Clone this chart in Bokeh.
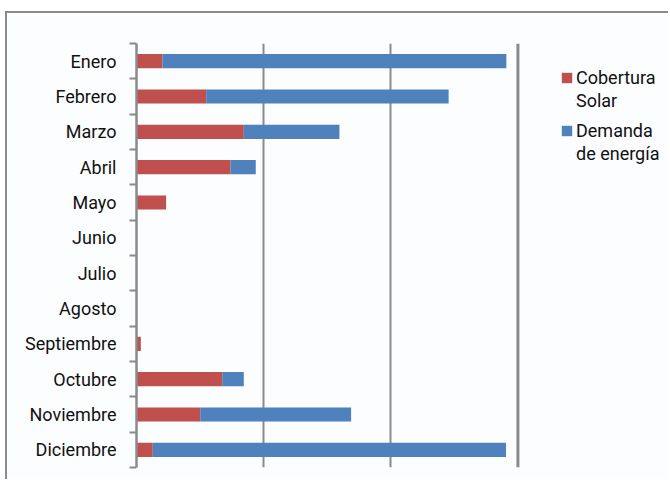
from bokeh.plotting import figure
from bokeh.models import (ColumnDataSource, Range1d, FixedTicker, Legend, LegendItem, Span)
from bokeh.embed import file_html
from bokeh.resources import INLINE

meses = ["Enero", "Febrero", "Marzo", "Abril", "Mayo", "Junio", "Julio",
         "Agosto", "Septiembre", "Octubre", "Noviembre", "Diciembre"]
cobertura_solar = [204, 548, 844, 739, 233, 0, 0, 0, 34, 674, 501, 128]
demanda_energia = [2705, 1907, 752, 199, 0, 0, 0, 0, 0, 170, 1187, 2778]
x_gridlines = [1000, 2000]
x_max = 3000
series_line1 = ["Cobertura", "Demanda"]
series_line2 = ["Solar", "de energía"]
colors = ["#C0504D", "#4F81BD"]

pos = [i + 0.5 for i in range(len(meses))]
src = ColumnDataSource(dict(pos=pos, cob=cobertura_solar, dem=demanda_energia))

BG = "#fbfdfe"
FONT = "Roboto"
GRAY = "#8a8a8a"

# frame extends to the right edge so the legend (inside it) is not clipped
p = figure(width=663, height=468, output_backend="svg", toolbar_location=None,
           x_range=Range1d(0, 4200), y_range=Range1d(len(meses), 0),
           min_border_left=129, min_border_right=0, min_border_top=30,
           min_border_bottom=14, background_fill_color=BG, border_fill_color=BG)
p.margin = (11, 0, 0, 5)
p.styles = {"border-top": "2px solid " + GRAY, "border-left": "2px solid " + GRAY}
p.outline_line_color = None

rs = p.hbar_stack(["cob", "dem"], y="pos", height=0.4, color=colors, source=src,
                  line_color=None)

p.xaxis.visible = False
p.xgrid.ticker = FixedTicker(ticks=x_gridlines)
p.xgrid.grid_line_color = GRAY
p.xgrid.grid_line_width = 2
p.ygrid.visible = False
p.add_layout(Span(location=x_max, dimension="height", line_color=GRAY, line_width=3))

yax = p.yaxis[0]
yax.ticker = FixedTicker(ticks=pos, minor_ticks=list(range(len(meses) + 1)))
yax.major_label_overrides = {pp: m for pp, m in zip(pos, meses)}
yax.major_tick_in = 0
yax.major_tick_out = 0
yax.minor_tick_in = 0
yax.minor_tick_out = 7
yax.minor_tick_line_color = GRAY
yax.minor_tick_line_width = 2
yax.axis_line_color = GRAY
yax.axis_line_width = 2.5
yax.major_label_standoff = 13
yax.major_label_text_font = FONT
yax.major_label_text_font_size = "18px"
yax.major_label_text_color = "#111111"

common = dict(padding=0, margin=0, spacing=32, label_text_font=FONT,
              label_text_font_size="18px", label_text_color="#111111",
              border_line_color=None, background_fill_alpha=0)
legend1 = Legend(items=[LegendItem(label=series_line1[0], renderers=[rs[0]]),
                        LegendItem(label=series_line1[1], renderers=[rs[1]])],
                 location=(424, 326), glyph_width=13, glyph_height=13,
                 label_standoff=3, **common)
legend2 = Legend(items=[LegendItem(label=series_line2[0], renderers=[rs[0]]),
                        LegendItem(label=series_line2[1], renderers=[rs[1]])],
                 location=(439, 303), glyph_width=1, glyph_height=1,
                 label_standoff=0, **common)
p.add_layout(legend1)
p.add_layout(legend2)

open("out.html", "w").write(file_html(p, INLINE))
